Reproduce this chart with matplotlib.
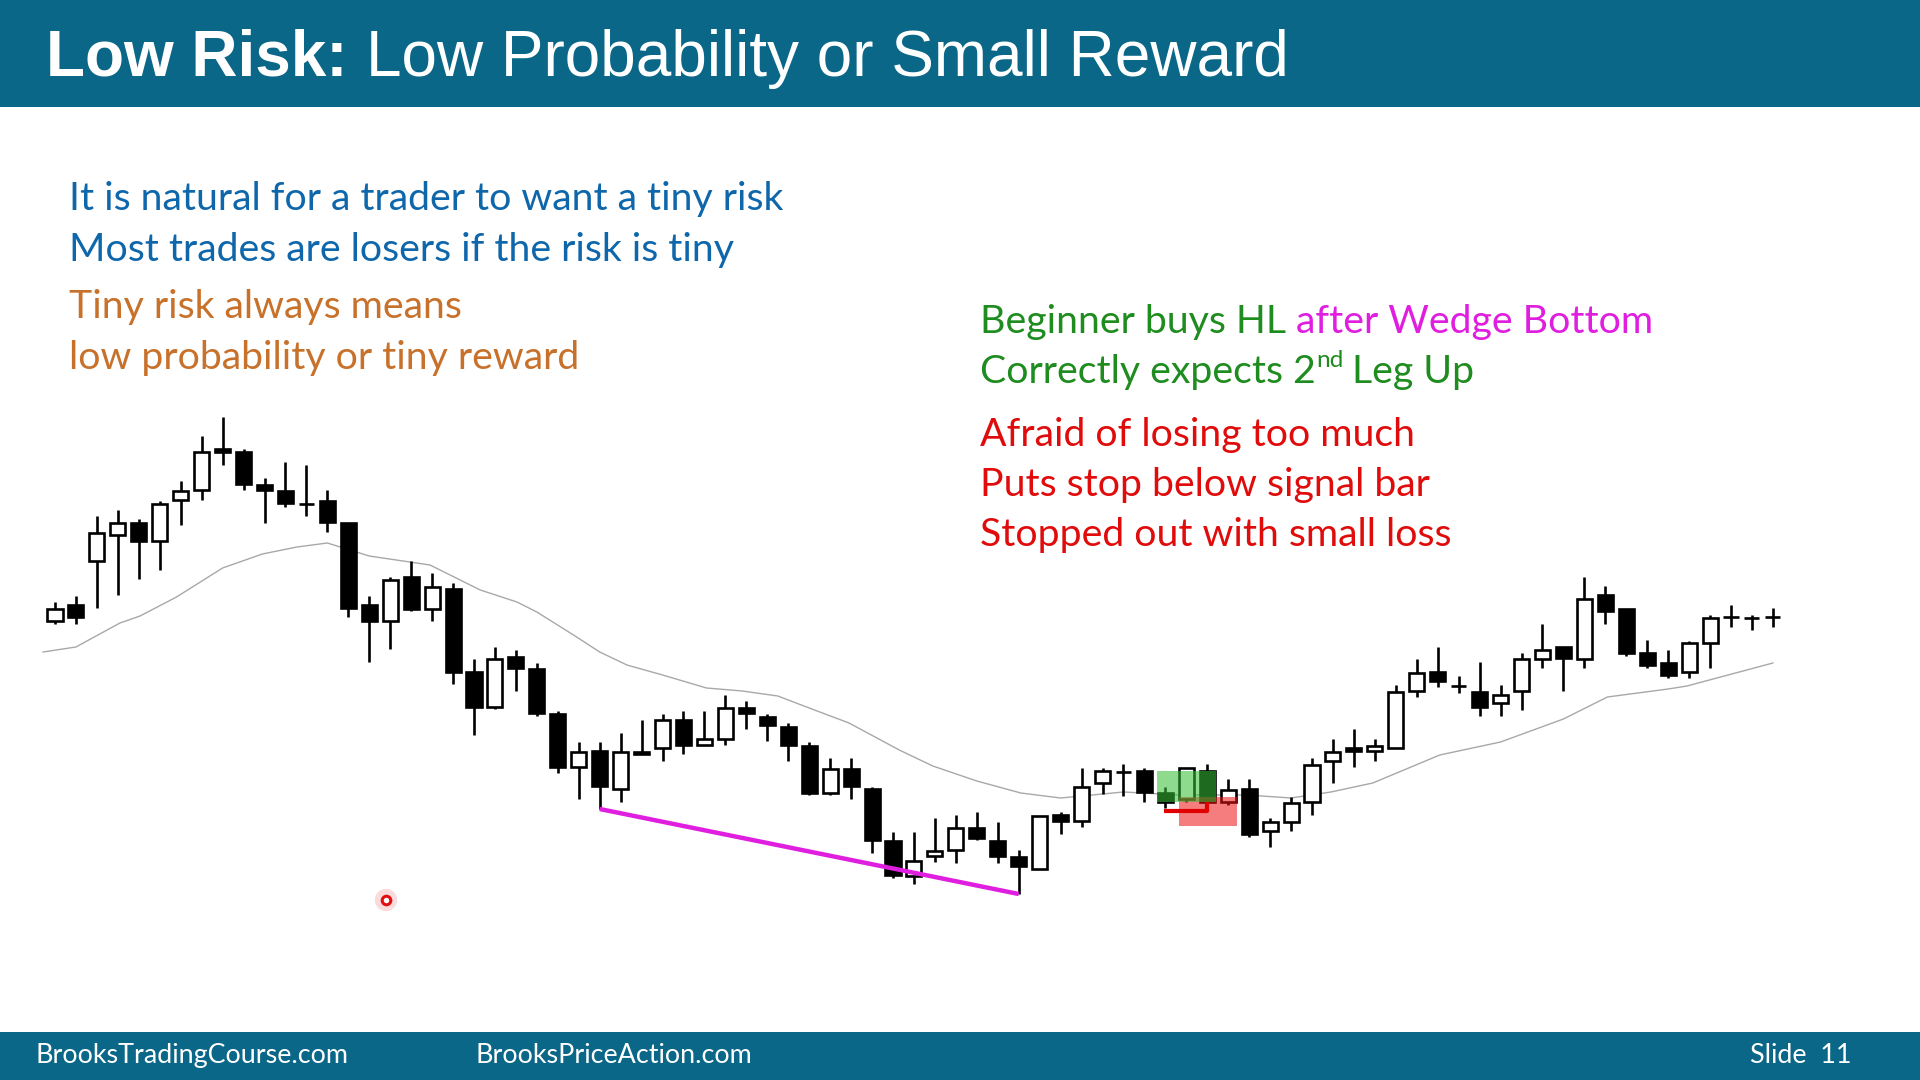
import matplotlib
matplotlib.use('Agg')
import matplotlib.pyplot as plt
from matplotlib.patches import Rectangle

W, H = 1920, 1080

# candle data (arbitrary price units, bar index 1..83)
opens = [459, 475, 519, 545, 557, 539, 580, 590, 631, 628,
         595, 589, 576, 579, 557, 475, 459, 503, 471, 491,
         408, 373, 423, 411, 366, 313, 329, 291, 326, 332,
         360, 335, 341, 372, 363, 353, 334, 287, 311, 291,
         239, 204, 224, 230, 252, 239, 223, 211, 265, 259,
         297, 308, 309, 287, 281, 309, 278, 291, 249, 258,
         278, 319, 332, 329, 332, 389, 408, 394, 388, 377,
         389, 421, 433, 421, 485, 471, 427, 417, 408, 437,
         463, 462, 463]
highs = [478, 484, 564, 570, 561, 579, 599, 644, 663, 631,
         602, 618, 615, 590, 557, 484, 503, 519, 507, 497,
         421, 433, 430, 417, 369, 338, 338, 347, 360, 366,
         369, 369, 385, 379, 366, 357, 338, 322, 322, 293,
         248, 248, 262, 265, 268, 258, 230, 264, 268, 312,
         312, 316, 312, 293, 312, 316, 301, 301, 262, 283,
         322, 341, 351, 341, 395, 421, 433, 404, 418, 395,
         427, 456, 433, 503, 494, 471, 440, 430, 439, 465,
         475, 465, 472]
lows = [456, 456, 472, 485, 501, 510, 555, 580, 615, 590,
        557, 573, 564, 548, 463, 418, 431, 469, 459, 396,
        345, 371, 389, 364, 307, 281, 271, 278, 326, 319,
        326, 335, 335, 351, 339, 319, 285, 285, 281, 227,
        202, 196, 218, 217, 240, 217, 186, 211, 246, 253,
        286, 284, 278, 272, 278, 278, 275, 243, 233, 249,
        265, 297, 313, 319, 332, 383, 393, 387, 364, 364,
        370, 412, 389, 412, 456, 424, 412, 402, 402, 412,
        453, 450, 453]
closes = [471, 463, 547, 557, 539, 576, 589, 628, 628, 596,
          590, 577, 576, 558, 472, 459, 500, 471, 493, 408,
          373, 421, 412, 367, 313, 328, 294, 328, 328, 360,
          335, 341, 372, 367, 355, 335, 287, 311, 294, 240,
          205, 219, 229, 252, 242, 224, 214, 264, 259, 293,
          309, 308, 288, 278, 312, 278, 290, 246, 258, 277,
          315, 328, 329, 334, 388, 407, 399, 394, 373, 385,
          421, 430, 422, 481, 469, 427, 415, 405, 437, 462,
          463, 462, 463]

# 20 bar EMA
ema_x = [0.43, 2.0, 4.1, 5.06, 6.8, 9.0, 10.9, 12.55, 14.0, 16.0,
         18.9, 21.3, 23.05, 24.0, 25.9, 27.0, 28.3, 30.0, 32.1, 33.8,
         35.5, 37.0, 38.9, 41.3, 42.9, 45.0, 47.1, 49.0, 52.0, 54.7,
         57.9, 60.0, 61.9, 63.9, 67.1, 70.0, 73.0, 75.1, 78.0, 78.9, 83.0]
ema_y = [428, 433, 457, 464, 483, 512, 526, 533, 537, 524,
         515, 490, 478, 468, 443, 428, 415, 405, 392, 389,
         384, 372, 357, 330, 314, 299, 287, 282, 288, 285,
         285, 282, 288, 297, 325, 338, 361, 383, 391, 394, 417]

# wedge bottom trend line: bar 27 low to bar 47 low
wedge_bars = [27, 47]
# buy zone (green) and stop-out zone (red): x0, x1, y0, y1
buy_zone = [53.6, 56.4, 278, 309]
loss_zone = [54.65, 57.4, 254, 283]
stop_x = [53.95, 56.0, 56.0]
stop_y = [269, 269, 278]
pointer = (16.8, 180)

left_lines = [("It is natural for a trader to want a tiny risk", '#0e66ab'),
              ("Most trades are losers if the risk is tiny", '#0e66ab'),
              ("Tiny risk always means", '#c8712b'),
              ("low probability or tiny reward", '#c8712b')]
left_base = [210, 261, 318, 369]
red_lines = ["Afraid of losing too much",
             "Puts stop below signal bar",
             "Stopped out with small loss"]
red_base = [446, 496, 546]

BAND = '#0a6787'
GREEN = '#1e8c1e'
MAGENTA = '#e01ee0'
RED = '#e00b0b'
BODY_FONT = 'Lato'
BODY_SIZE = 28.3
FOOT_SIZE = 19.4

fig = plt.figure(figsize=(W / 100, H / 100), dpi=100)
fig.patch.set_facecolor('white')
fig.patches.append(Rectangle((0, 1 - 106.5 / H), 1, 106.5 / H, transform=fig.transFigure,
                             facecolor=BAND, edgecolor='none', zorder=0))
fig.patches.append(Rectangle((0, 0), 1, 48 / H, transform=fig.transFigure,
                             facecolor=BAND, edgecolor='none', zorder=0))

renderer = fig.canvas.get_renderer()


def put_runs(x_px, base_px, runs, family):
    # runs: (text, colour, size, weight, raise_px, gap_after_px)
    x = x_px
    for text, color, size, weight, dy, gap in runs:
        t = fig.text(x / W, 1 - (base_px - dy) / H, text, color=color, fontsize=size,
                     fontweight=weight, family=family, ha='left', va='baseline')
        x += t.get_window_extent(renderer).width + gap
    return x


put_runs(46, 76, [("Low Risk:", 'white', 46, 'bold', 0, 19),
                  ("Low Probability or Small Reward", 'white', 46, 'normal', 0, 0)],
         'Liberation Sans')

for (txt, col), b in zip(left_lines, left_base):
    fig.text(69 / W, 1 - b / H, txt, color=col, fontsize=BODY_SIZE, family=BODY_FONT,
             ha='left', va='baseline')

put_runs(980, 333, [("Beginner buys HL", GREEN, BODY_SIZE, 'normal', 0, 10),
                    ("after Wedge Bottom", MAGENTA, BODY_SIZE, 'normal', 0, 0)], BODY_FONT)
put_runs(980, 383, [("Correctly expects 2", GREEN, BODY_SIZE, 'normal', 0, 1),
                    ("nd", GREEN, BODY_SIZE * 0.62, 'normal', 16, 8),
                    ("Leg Up", GREEN, BODY_SIZE, 'normal', 0, 0)], BODY_FONT)
for txt, b in zip(red_lines, red_base):
    fig.text(980 / W, 1 - b / H, txt, color=RED, fontsize=BODY_SIZE, family=BODY_FONT,
             ha='left', va='baseline')

for txt, x in [("BrooksTradingCourse.com", 36), ("BrooksPriceAction.com", 475)]:
    fig.text(x / W, 1 - 1063 / H, txt, color='white', fontsize=FOOT_SIZE, family=BODY_FONT,
             ha='left', va='baseline')
fig.text(1851 / W, 1 - 1063 / H, "Slide  11", color='white', fontsize=FOOT_SIZE,
         family=BODY_FONT, ha='right', va='baseline')

# price chart, bar i sits at pixel 55 + (i - 1) * 20.95
ax = fig.add_axes([0, (H - 920) / H, 1, 540 / H])
ax.set_xlim(1 - 55 / 20.95, 1 + (W - 55) / 20.95)
ax.set_ylim(160, 700)
ax.axis('off')

idx = list(range(1, len(opens) + 1))
ax.plot(ema_x, ema_y, color='#a8a8a8', lw=1.0, zorder=1)
ax.vlines(idx, lows, highs, color='black', lw=1.9, zorder=2)
bottoms = [min(o, c) for o, c in zip(opens, closes)]
heights = [abs(c - o) for o, c in zip(opens, closes)]
faces = ['white' if c >= o else 'black' for o, c in zip(opens, closes)]
ax.bar(idx, heights, bottom=bottoms, width=0.72, color=faces, edgecolor='black',
       linewidth=1.9, zorder=3)

ax.plot(wedge_bars, [lows[i - 1] for i in wedge_bars], color=MAGENTA, lw=3.2,
        solid_capstyle='butt', zorder=4)

ax.add_patch(Rectangle((loss_zone[0], loss_zone[2]), loss_zone[1] - loss_zone[0],
                       loss_zone[3] - loss_zone[2], facecolor='#ed1212', alpha=0.55,
                       edgecolor='none', zorder=5))
ax.add_patch(Rectangle((buy_zone[0], buy_zone[2]), buy_zone[1] - buy_zone[0],
                       buy_zone[3] - buy_zone[2], facecolor='#36bf36', alpha=0.56,
                       edgecolor='none', zorder=6))
ax.plot(stop_x, stop_y, color='#e00000', lw=3.0, solid_capstyle='butt', zorder=7)

ax.scatter([pointer[0]], [pointer[1]], s=260, color='#f4b0b0', alpha=0.45,
           edgecolors='none', zorder=8)
ax.scatter([pointer[0]], [pointer[1]], s=38, facecolor='white', edgecolors='#e01010',
           linewidths=2.2, zorder=9)

fig.savefig('out.png', dpi=100)
